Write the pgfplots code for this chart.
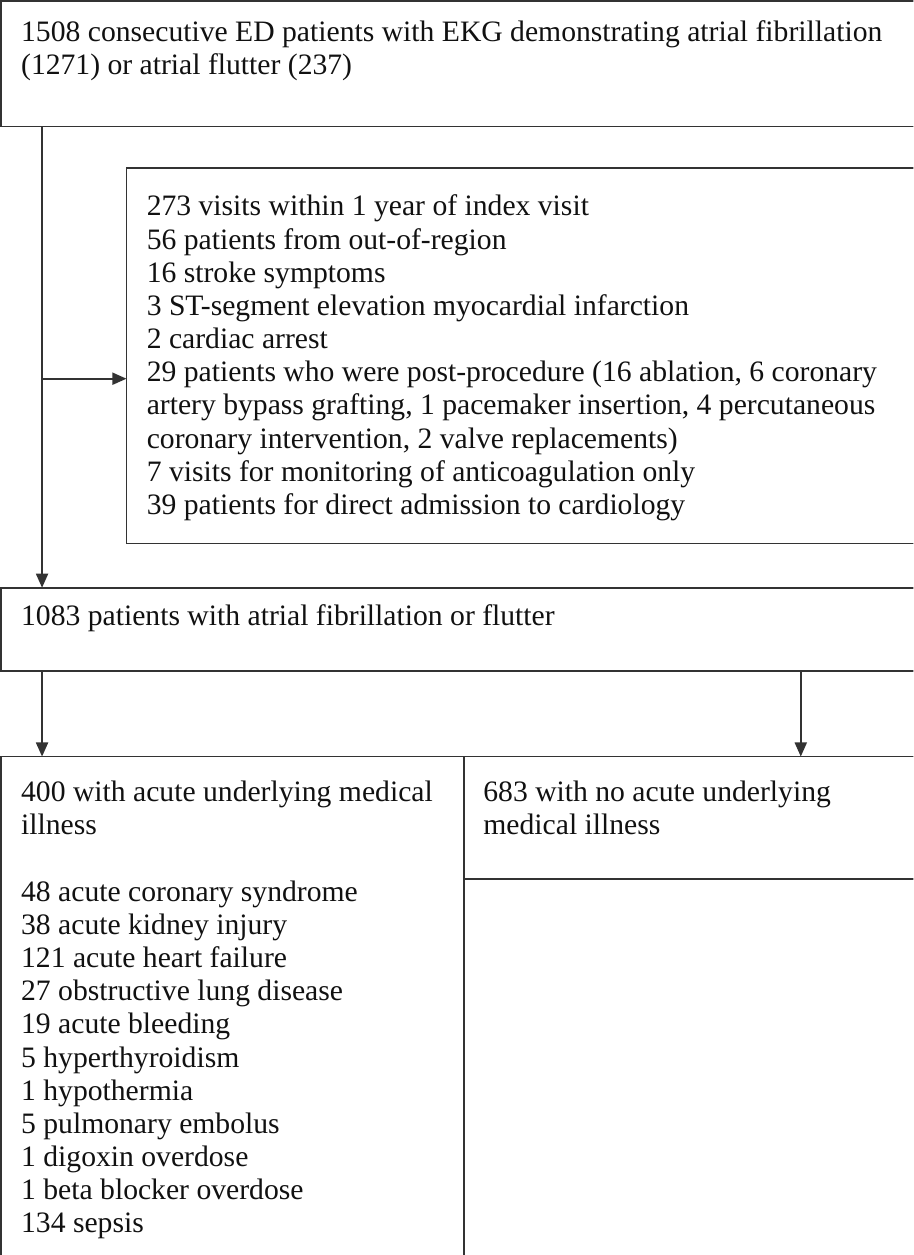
\documentclass[border=0pt]{standalone}
\usepackage{pgfplots}
\pgfplotsset{compat=1.18}
\usepackage{fontspec}
\setmainfont{Liberation Serif}
\usetikzlibrary{arrows.meta}
\definecolor{ln}{HTML}{333333}
\definecolor{tx}{HTML}{111111}
\begin{document}
\begin{tikzpicture}[t/.style={anchor=base west,inner sep=0pt,text=tx,font=\fontsize{29.5}{33}\selectfont}]
\begin{axis}[width=920pt,height=1255pt,scale only axis,
  xmin=0,xmax=920,ymin=0,ymax=1255,y dir=reverse,
  axis lines=none,clip=true,
  bx/.style={line width=1.7pt,color=ln,mark=none,line join=miter,line cap=rect},
  ar/.style={bx,line cap=butt,-{Triangle[length=14pt,width=12pt]}}]
% boxes
\addplot[bx] coordinates {(12,7)(950,7)(950,132)(12,132)(12,7)};
\addplot[bx] coordinates {(137,173)(950,173)(950,547)(137,547)(137,173)};
\addplot[bx] coordinates {(12,591)(950,591)(950,674)(12,674)(12,591)};
\addplot[bx] coordinates {(12,1270)(12,759)(950,759)};
\addplot[bx] coordinates {(473,759)(473,1270)};
\addplot[bx] coordinates {(473,881)(950,881)};
% arrows
\addplot[ar] coordinates {(53,132)(53,591)};
\addplot[ar] coordinates {(53,383)(137,383)};
\addplot[ar] coordinates {(53,674)(53,759)};
\addplot[ar] coordinates {(808,674)(808,759)};
% texts
\node[t] at (axis cs:32,47) {1508 consecutive ED patients with EKG demonstrating atrial fibrillation};
\node[t] at (axis cs:32,80) {(1271) or atrial flutter (237)};
\node[t] at (axis cs:157,221) {273 visits within 1 year of index visit};
\node[t] at (axis cs:157,254) {56 patients from out-of-region};
\node[t] at (axis cs:157,287) {16 stroke symptoms};
\node[t] at (axis cs:157,320) {3 ST-segment elevation myocardial infarction};
\node[t] at (axis cs:157,353) {2 cardiac arrest};
\node[t] at (axis cs:157,386) {29 patients who were post-procedure (16 ablation, 6 coronary};
\node[t] at (axis cs:157,419) {artery bypass grafting, 1 pacemaker insertion, 4 percutaneous};
\node[t] at (axis cs:157,452) {coronary intervention, 2 valve replacements)};
\node[t] at (axis cs:157,485) {7 visits for monitoring of anticoagulation only};
\node[t] at (axis cs:157,518) {39 patients for direct admission to cardiology};
\node[t] at (axis cs:32,629) {1083 patients with atrial fibrillation or flutter};
\node[t] at (axis cs:32,804) {400 with acute underlying medical};
\node[t] at (axis cs:32,837) {illness};
\node[t] at (axis cs:492,804) {683 with no acute underlying};
\node[t] at (axis cs:492,837) {medical illness};
\node[t] at (axis cs:32,903) {48 acute coronary syndrome};
\node[t] at (axis cs:32,936) {38 acute kidney injury};
\node[t] at (axis cs:32,969) {121 acute heart failure};
\node[t] at (axis cs:32,1002) {27 obstructive lung disease};
\node[t] at (axis cs:32,1035) {19 acute bleeding};
\node[t] at (axis cs:32,1068) {5 hyperthyroidism};
\node[t] at (axis cs:32,1101) {1 hypothermia};
\node[t] at (axis cs:32,1134) {5 pulmonary embolus};
\node[t] at (axis cs:32,1167) {1 digoxin overdose};
\node[t] at (axis cs:32,1200) {1 beta blocker overdose};
\node[t] at (axis cs:32,1233) {134 sepsis};
\end{axis}
\end{tikzpicture}
\end{document}
